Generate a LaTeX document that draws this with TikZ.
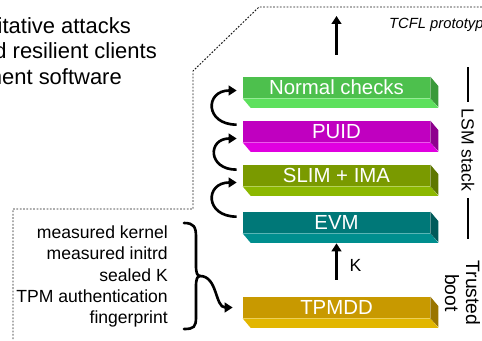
\documentclass[tikz,border=0pt]{standalone}
\usepackage{fontspec}
\setmainfont{Liberation Sans}
\usetikzlibrary{arrows.meta}

\definecolor{normalfront}{HTML}{4DC04D}
\definecolor{normalbottom}{HTML}{5DE05D}
\definecolor{normalside}{HTML}{3A9A3A}
\definecolor{puidfront}{HTML}{C000C0}
\definecolor{puidbottom}{HTML}{E000E0}
\definecolor{puidside}{HTML}{8E008E}
\definecolor{slimfront}{HTML}{7A9A00}
\definecolor{slimbottom}{HTML}{8CB800}
\definecolor{slimside}{HTML}{5E7700}
\definecolor{evmfront}{HTML}{007878}
\definecolor{evmbottom}{HTML}{008E8E}
\definecolor{evmside}{HTML}{005A5A}
\definecolor{tpmfront}{HTML}{C89900}
\definecolor{tpmbottom}{HTML}{E2B600}
\definecolor{tpmside}{HTML}{9A7500}

\tikzstyle{layer}=[minimum width=3.74cm, minimum height=0.42cm, inner sep=0pt, text=white, font=\fontsize{11.6}{13}\selectfont]
\tikzstyle{flow}=[line width=1.5pt, -{Triangle[length=4.5pt, width=5.5pt]}]
\tikzstyle{brace}=[line width=1.5pt, line cap=round]
\tikzstyle{boundary}=[black!90, line width=0.55pt, dash pattern=on 1pt off 0.9pt]
\tikzstyle{sidenote}=[rotate=-90, font=\fontsize{10}{12}\selectfont]
\tikzstyle{headline}=[anchor=base east, font=\fontsize{12.5}{14}\selectfont]

\begin{document}
\begin{tikzpicture}
				\useasboundingbox (0,0) rectangle (9.64,6.8);
				\clip (0,0) rectangle (9.64,6.8);

				\node[headline] (attacks) at (2.74,6.14) {oitative attacks};
				\node[headline] (clients) at (3.26,5.64) {d resilient clients};
				\node[headline] (software) at (2.56,5.12) {ment software};
				\node[anchor=east, font=\fontsize{10}{12}\selectfont] (cut) at (0.12,1.86) {k};

				\draw[boundary] (9.64,6.66) -- (5.18,6.66) -- (3.86,5.38) -- (3.86,2.62) -- (0.26,2.62) -- (0.26,0);
				\node[anchor=base west, font=\fontsize{8.4}{10}\itshape] (tcfl) at (7.66,6.24) {TCFL prototype};

				\node[layer, fill=normalfront] (normal) at (6.73,5.05) {Normal checks};
				\node[layer, fill=puidfront] (puid) at (6.73,4.17) {PUID};
				\node[layer, fill=slimfront] (slim) at (6.73,3.29) {SLIM + IMA};
				\node[layer, fill=evmfront] (evm) at (6.73,2.35) {EVM};
				\node[layer, fill=tpmfront] (tpmdd) at (6.73,0.65) {TPMDD};

				\fill[normalbottom] (normal.south west) -- (normal.south east) -- ++(0.16,-0.19) -- ([shift={(0.16,-0.19)}]normal.south west) -- cycle;
				\fill[normalside] (normal.north east) -- ++(0.16,-0.19) -- ++(0,-0.42) -- (normal.south east) -- cycle;
				\fill[puidbottom] (puid.south west) -- (puid.south east) -- ++(0.16,-0.19) -- ([shift={(0.16,-0.19)}]puid.south west) -- cycle;
				\fill[puidside] (puid.north east) -- ++(0.16,-0.19) -- ++(0,-0.42) -- (puid.south east) -- cycle;
				\fill[slimbottom] (slim.south west) -- (slim.south east) -- ++(0.16,-0.19) -- ([shift={(0.16,-0.19)}]slim.south west) -- cycle;
				\fill[slimside] (slim.north east) -- ++(0.16,-0.19) -- ++(0,-0.42) -- (slim.south east) -- cycle;
				\fill[evmbottom] (evm.south west) -- (evm.south east) -- ++(0.16,-0.19) -- ([shift={(0.16,-0.19)}]evm.south west) -- cycle;
				\fill[evmside] (evm.north east) -- ++(0.16,-0.19) -- ++(0,-0.42) -- (evm.south east) -- cycle;
				\fill[tpmbottom] (tpmdd.south west) -- (tpmdd.south east) -- ++(0.16,-0.19) -- ([shift={(0.16,-0.19)}]tpmdd.south west) -- cycle;
				\fill[tpmside] (tpmdd.north east) -- ++(0.16,-0.19) -- ++(0,-0.42) -- (tpmdd.south east) -- cycle;

				\coordinate (out) at (6.73,6.48);
				\draw[flow, line width=1.8pt, shorten <=0.44cm] (normal) -- (out);

				\draw[flow] ([shift={(-0.12,-0.08)}]puid.north west) to[out=180, in=180, looseness=2.4] ([shift={(-0.12,-0.06)}]normal.west);
				\draw[flow] ([shift={(-0.12,-0.1)}]slim.north west) to[out=180, in=180, looseness=2.4] ([shift={(-0.12,-0.14)}]puid.west);
				\draw[flow] ([shift={(-0.12,-0.1)}]evm.north west) to[out=180, in=180, looseness=2.4] ([shift={(-0.12,-0.14)}]slim.west);

				\draw[flow, shorten <=0.34cm, shorten >=0.2cm] (tpmdd) -- (evm) node[midway, right=0.12cm, font=\fontsize{10}{12}\selectfont] (key) {K};

				\node[anchor=east, align=right, font=\fontsize{10}{12}\selectfont] (measures) at (3.48,1.27) {measured kernel\\measured initrd\\sealed K\\TPM authentication\\fingerprint};
				\coordinate (tip) at (4.00,1.28);
				\draw[brace] (3.68,2.34) .. controls (3.88,2.34) and (3.92,2.26) .. (3.92,2.06) -- (3.92,1.50) .. controls (3.92,1.34) and (3.94,1.29) .. (tip);
				\draw[brace] (tip) .. controls (3.94,1.27) and (3.92,1.22) .. (3.92,1.06) -- (3.92,0.46) .. controls (3.92,0.26) and (3.88,0.22) .. (3.68,0.22);
				\draw[flow] (tip) to[out=0, in=180] ([xshift=-0.2cm]tpmdd.west);

				\node[sidenote, inner sep=0.14cm] (lsm) at (9.36,3.80) {LSM stack};
				\draw[line width=0.6pt] (lsm.west) -- ++(0,0.70);
				\draw[line width=0.6pt] (lsm.east) -- ++(0,-0.82);
				\node[sidenote, align=center, font=\fontsize{11}{12}\selectfont] (boot) at (9.25,0.94) {Trusted\\boot};
			\end{tikzpicture}
\end{document}
